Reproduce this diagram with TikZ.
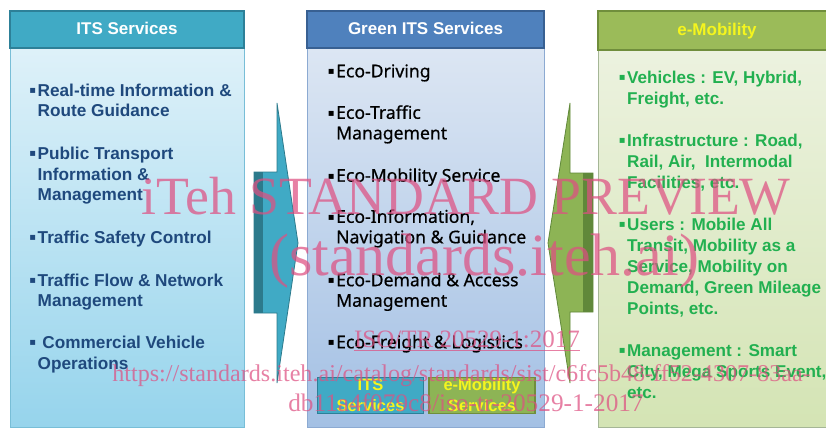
\documentclass[tikz,border=0pt]{standalone}
\usepackage{fontspec}
\setmainfont{Liberation Sans}
\newfontfamily\ecofont{Noto Sans}[FakeBold=0.6]
\newfontfamily\wmfont{Liberation Serif}
\newfontfamily\symfont{DejaVu Sans}

\definecolor{itsHead}{RGB}{64,170,197}
\definecolor{itsHeadLine}{RGB}{45,128,152}
\definecolor{itsTop}{RGB}{222,241,249}
\definecolor{itsBot}{RGB}{150,212,236}
\definecolor{itsLine}{RGB}{120,190,215}
\definecolor{itsText}{RGB}{31,73,125}
\definecolor{itsDark}{RGB}{44,122,140}

\definecolor{grnHead}{RGB}{79,129,189}
\definecolor{grnHeadLine}{RGB}{56,96,146}
\definecolor{grnTop}{RGB}{220,230,243}
\definecolor{grnBot}{RGB}{163,192,228}
\definecolor{grnLine}{RGB}{140,170,210}

\definecolor{emHead}{RGB}{155,187,89}
\definecolor{emHeadLine}{RGB}{112,142,60}
\definecolor{emTop}{RGB}{236,242,223}
\definecolor{emBot}{RGB}{212,228,180}
\definecolor{emLine}{RGB}{165,182,150}
\definecolor{emText}{RGB}{34,176,80}
\definecolor{emArrow}{RGB}{141,180,85}
\definecolor{emDark}{RGB}{96,136,58}
\definecolor{hiYellow}{RGB}{245,245,30}

\definecolor{wmPink}{RGB}{222,80,130}

% small square bullet hanging left of the first line, lifted to mid x-height
\newcommand\blt{\llap{\raisebox{2.6pt}{\symfont\fontsize{10}{10}\selectfont ▪}\hspace{1.6pt}}}

% multi-line item nodes are placed by the baseline of their last line
\tikzset{
  headtext/.style={anchor=base, inner sep=0pt, text=white,
    font=\fontsize{17}{20}\selectfont\bfseries},
  itsitem/.style={anchor=base west, align=left, inner sep=0pt, text=itsText,
    font=\fontsize{17.2}{20.7}\selectfont\bfseries},
  ecoitem/.style={anchor=base west, align=left, inner sep=0pt, text=black,
    font=\ecofont\fontsize{17.6}{20.5}\selectfont},
  emitem/.style={anchor=base west, align=left, inner sep=0pt, text=emText,
    font=\fontsize{17.1}{21}\selectfont\bfseries},
  tagbox/.style={line width=1.6pt, minimum width=106pt, minimum height=36pt,
    inner sep=0pt, align=center, text=hiYellow,
    font=\fontsize{16.5}{21}\selectfont\bfseries},
  watermark/.style={inner sep=0pt, anchor=base, text=wmPink, text opacity=0.72},
}

\begin{document}
\begin{tikzpicture}[x=1pt,y=-1pt]
\useasboundingbox (0,0) rectangle (826,428);
\fill[white] (0,0) rectangle (826,428);

% ---- ITS Services column
\shade[top color=itsTop, bottom color=itsBot, draw=itsLine, line width=0.8pt]
  (10,48) rectangle (244,427);
\filldraw[fill=itsHead, draw=itsHeadLine, line width=1.6pt] (10,11) rectangle (244,48);
\node[headtext] (itsHeadText) at (127,34.3) {ITS Services};

\node[itsitem] (its1) at (37.5,116.7) {\blt Real-time Information \&\\Route Guidance};
\node[itsitem] (its2) at (37.5,200.7) {\blt Public Transport\\Information \&\\Management};
\node[itsitem] (its3) at (37.5,243.3) {\blt Traffic Safety Control};
\node[itsitem] (its4) at (37.5,306.7) {\blt Traffic Flow \& Network\\Management};
\node[itsitem] (its5) at (37.5,369)   {\blt\ Commercial Vehicle\\Operations};

% ---- Green ITS Services column
\shade[top color=grnTop, bottom color=grnBot, draw=grnLine, line width=0.8pt]
  (307,48) rectangle (544,427);
\filldraw[fill=grnHead, draw=grnHeadLine, line width=1.6pt] (307,11) rectangle (544,48);
\node[headtext] (grnHeadText) at (425.5,34.3) {Green ITS Services};

\node[ecoitem] (eco1) at (336,77.3)  {\blt Eco-Driving};
\node[ecoitem] (eco2) at (336,139.3) {\blt Eco-Traffic\\Management};
\node[ecoitem] (eco3) at (336,181.7) {\blt Eco-Mobility Service};
\node[ecoitem] (eco4) at (336,243.3) {\blt Eco-Information,\\Navigation \& Guidance};
\node[ecoitem] (eco5) at (336,306.7) {\blt Eco-Demand \& Access\\Management};
\node[ecoitem] (eco6) at (336,348.3) {\blt Eco-Freight \& Logistics};

\node[tagbox, fill=itsHead, draw=itsHeadLine] (tagIts) at (370.5,395.5) {ITS\\Services};
\node[tagbox, fill=emArrow, draw=emHeadLine] (tagEm) at (482,395.5) {e-Mobility\\Services};

% ---- e-Mobility column
\shade[top color=emTop, bottom color=emBot, draw=emLine, line width=0.8pt]
  (598,50) rectangle (840,427);
\filldraw[fill=emHead, draw=emHeadLine, line width=1.6pt] (598,11) rectangle (840,50);
\node[headtext, text=hiYellow] (emHeadText) at (717,36) {e-Mobility};

\node[emitem] (em1) at (627,104.3) {\blt Vehicles : EV, Hybrid,\\Freight, etc.};
\node[emitem] (em2) at (627,188.3) {\blt Infrastructure : Road,\\Rail, Air,\ \ Intermodal\\Facilities, etc.};
\node[emitem] (em3) at (627,314)   {\blt Users : Mobile All\\Transit, Mobility as a\\Service, Mobility on\\Demand, Green Mileage\\Points, etc.};
\node[emitem] (em4) at (627,398.3) {\blt Management : Smart\\City, Mega Sports Event,\\etc.};

% ---- block arrows between the columns
\filldraw[fill=itsHead, draw=itsDark, line width=0.8pt]
  (277,103) -- (298,243) -- (277,383) -- (277,313) -- (254,313)
  -- (254,172) -- (277,172) -- cycle;
\fill[itsDark] (254,172) rectangle (263,313);

\filldraw[fill=emArrow, draw=emDark, line width=0.8pt]
  (570,103) -- (548,243) -- (570,383) -- (570,312) -- (593,312)
  -- (593,173) -- (570,173) -- cycle;
\fill[emDark] (583,173) rectangle (593,312);

% ---- overprinted notice
\node[watermark, font=\wmfont\fontsize{53.8}{60}\selectfont] (wm1) at (466,214.5) {iTeh STANDARD PREVIEW};
\node[watermark, font=\wmfont\fontsize{60}{62}\selectfont] (wm2) at (484,275) {(standards.iteh.ai)};
\node[watermark, font=\wmfont\fontsize{25}{28}\selectfont] (wm3) at (467,347) {ISO/TR 20529-1:2017};
\draw[wmPink, opacity=0.72, line width=1pt] ([yshift=-3.5pt]wm3.base west) -- ([yshift=-3.5pt]wm3.base east);
\node[watermark, font=\wmfont\fontsize{24.1}{28}\selectfont] (wm4) at (461.5,381) {https://standards.iteh.ai/catalog/standards/sist/c6fc5b48-ff52-4307-83aa-};
\node[watermark, font=\wmfont\fontsize{25.3}{28}\selectfont] (wm5) at (466,411.7) {db11a4f079c8/iso-tr-20529-1-2017};
\end{tikzpicture}
\end{document}
